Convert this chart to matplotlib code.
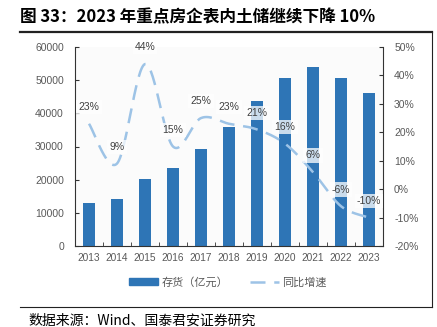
import numpy as np
import matplotlib
matplotlib.use('Agg')
from matplotlib import pyplot as plt
from matplotlib.lines import Line2D
from matplotlib.patches import Patch

plt.rcParams['font.family'] = ['Liberation Sans', 'Noto Sans CJK SC', 'DejaVu Sans']

# 数据
years = ['2013', '2014', '2015', '2016', '2017', '2018', '2019', '2020', '2021', '2022', '2023']
inventory = [13000, 14200, 20300, 23400, 29300, 36000, 43800, 50800, 53900, 50800, 46000]
growth = [23, 9, 44, 15, 25, 23, 21, 16, 6, -6, -10]

bar_color = '#2E75B6'
line_color = '#9DC3E6'
text_gray = '#595959'
cjk = ['Noto Sans CJK SC', 'DejaVu Sans']


def smooth(xs, ys, n=30):
    # Excel风格的平滑曲线（Catmull-Rom贝塞尔）
    xs = np.asarray(xs, float)
    ys = np.asarray(ys, float)
    px, py = [], []
    for i in range(len(xs) - 1):
        x0, y0 = (xs[i - 1], ys[i - 1]) if i > 0 else (xs[i], ys[i])
        x3, y3 = (xs[i + 2], ys[i + 2]) if i + 2 < len(xs) else (xs[i + 1], ys[i + 1])
        x1, y1, x2, y2 = xs[i], ys[i], xs[i + 1], ys[i + 1]
        c1x, c1y = x1 + (x2 - x0) / 6, y1 + (y2 - y0) / 6
        c2x, c2y = x2 - (x3 - x1) / 6, y2 - (y3 - y1) / 6
        t = np.linspace(0, 1, n)
        bx = (1 - t) ** 3 * x1 + 3 * (1 - t) ** 2 * t * c1x + 3 * (1 - t) * t ** 2 * c2x + t ** 3 * x2
        by = (1 - t) ** 3 * y1 + 3 * (1 - t) ** 2 * t * c1y + 3 * (1 - t) * t ** 2 * c2y + t ** 3 * y2
        px.extend(bx)
        py.extend(by)
    return np.array(px), np.array(py)


fig = plt.figure(figsize=(4.37, 3.27), dpi=100)
ax = fig.add_axes([75 / 437, 1 - 246 / 327, 308 / 437, 199 / 327])
ax.set_facecolor('#fbfbfb')
x = np.arange(len(years))
ax.bar(x, inventory, width=0.4, color=bar_color, zorder=2)
ax.set_xlim(-0.5, len(years) - 0.5)
ax.set_ylim(0, 60000)
ax.set_yticks(np.arange(0, 60001, 10000))
ax.set_xticks(x)
ax.set_xticklabels(years)
ax.set_xticks(np.arange(-0.5, len(years), 1), minor=True)
ax.tick_params(axis='x', which='major', length=0, labelsize=7.3, labelcolor=text_gray, pad=5)
ax.tick_params(axis='x', which='minor', direction='in', length=3, color='#333333')
ax.tick_params(axis='y', direction='in', length=3, labelsize=7.5, labelcolor=text_gray, color='#333333', pad=8)
for s in ['top', 'right']:
    ax.spines[s].set_visible(False)
for s in ['left', 'bottom']:
    ax.spines[s].set_color('#333333')
    ax.spines[s].set_linewidth(0.8)

ax2 = ax.twinx()
ax2.set_ylim(-20, 50)
ax2.set_yticks(np.arange(-20, 51, 10))
ax2.set_yticklabels([f'{v}%' for v in range(-20, 51, 10)])
ax2.tick_params(axis='y', direction='in', length=3, labelsize=7.5, labelcolor=text_gray, color='#333333', pad=8)
for s in ['top', 'left', 'bottom']:
    ax2.spines[s].set_visible(False)
ax2.spines['right'].set_color('#333333')
ax2.spines['right'].set_linewidth(0.8)

sx, sy = smooth(x, growth)
ax2.plot(sx, sy, color=line_color, lw=1.8, dashes=(6, 3.5), zorder=3)
for xi, g in zip(x, growth):
    ax2.annotate(f'{g}%', (xi, g), xytext=(0, 12), textcoords='offset points',
                 ha='center', va='center', fontsize=7.5, color='#404040', zorder=4,
                 bbox=dict(boxstyle='square,pad=0.2', fc='white', ec='none', alpha=0.75))

handles = [Patch(color=bar_color), Line2D([0], [0], color=line_color, lw=1.8, dashes=(6, 3.5))]
fig.legend(handles, ['存货（亿元）', '同比增速'], loc='center', bbox_to_anchor=(228 / 437, 1 - 282 / 327),
           ncol=2, frameon=False, prop={'family': cjk, 'size': 8}, labelcolor=text_gray,
           handlelength=2.6, handleheight=0.5, columnspacing=2.0, handletextpad=0.3)

# 标题、边框、来源
fig.text(20 / 437, 1 - 17 / 327, '图 33：2023 年重点房企表内土储继续下降 10%', fontsize=12,
         fontweight='bold', va='center', ha='left', color='black', family=cjk)
fig.add_artist(Line2D([20 / 437, 432 / 437], [1 - 32 / 327] * 2, color='#222222', lw=1.6))
fig.add_artist(Line2D([432 / 437] * 2, [1 - 32 / 327, 1 - 307 / 327], color='#222222', lw=0.8))
fig.add_artist(Line2D([20 / 437, 432 / 437], [1 - 307 / 327] * 2, color='#222222', lw=0.8))
fig.text(28 / 437, 1 - 321 / 327, '数据来源：Wind、国泰君安证券研究', fontsize=10, va='center', ha='left',
         color='black', family=cjk)

fig.savefig('out.png', dpi=100)
